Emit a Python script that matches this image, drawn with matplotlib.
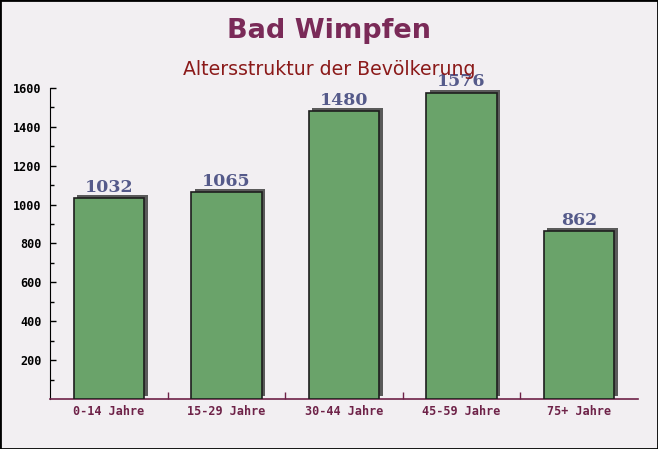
import numpy as np
import matplotlib.pyplot as plt
import matplotlib.transforms as mtransforms
from matplotlib.patches import Rectangle

categories = ["0-14 Jahre", "15-29 Jahre", "30-44 Jahre", "45-59 Jahre", "75+ Jahre"]
values = [1032, 1065, 1480, 1576, 862]

fig = plt.figure(figsize=(6.58, 4.49), dpi=100)
fig.patch.set_facecolor("#f2eff2")
ax = fig.add_axes([0.076, 0.1114, 0.8936, 0.6926])
ax.set_facecolor("none")

x = np.arange(len(categories))
shadow = mtransforms.offset_copy(ax.transData, fig=fig, x=3.5, y=3, units="dots")
ax.bar(x, values, width=0.6, color="#5a5a5a", transform=shadow, zorder=2)
ax.bar(x, values, width=0.6, color="#6aa36a", edgecolor="#1e1e1e", linewidth=1.2, zorder=3)

for xi, v in zip(x, values):
    ax.text(xi, v + 12, str(v), ha="center", va="bottom", fontsize=12.5,
            fontweight="bold", family="DejaVu Serif", color="#555a8a", zorder=4)

ax.set_xlim(-0.5, len(categories) - 0.5)
ax.set_ylim(0, 1600)
ax.set_yticks(np.arange(200, 1601, 200))
ax.set_yticks(np.arange(100, 1600, 200), minor=True)
ax.set_xticks(x)
ax.set_xticklabels(categories)
ax.set_xticks(np.arange(0.5, len(categories) - 1, 1), minor=True)

for lab in ax.get_yticklabels():
    lab.set_family("DejaVu Sans Mono")
    lab.set_fontweight("bold")
    lab.set_fontsize(8.5)
for lab in ax.get_xticklabels():
    lab.set_family("DejaVu Sans Mono")
    lab.set_fontweight("bold")
    lab.set_fontsize(8.5)
    lab.set_color("#6e2248")

ax.tick_params(axis="y", which="major", direction="in", length=4, width=1, pad=6, colors="black")
ax.tick_params(axis="y", which="minor", direction="in", length=3, width=1)
ax.tick_params(axis="x", which="major", length=0, pad=4)
ax.tick_params(axis="x", which="minor", direction="in", length=5, width=1, color="#6e2248")

for side in ["top", "right"]:
    ax.spines[side].set_visible(False)
ax.spines["left"].set_color("black")
ax.spines["bottom"].set_color("#6e2248")
ax.spines["bottom"].set_linewidth(1.2)

fig.text(0.5, 0.932, "Bad Wimpfen", ha="center", va="center", fontsize=19.5,
         fontweight="bold", color="#7a2a58")
fig.text(0.5, 0.845, "Altersstruktur der Bevölkerung", ha="center", va="center",
         fontsize=13.6, color="#8b1a1a")

fig.patches.append(Rectangle((0, 0), 1, 1, transform=fig.transFigure, fill=False,
                             edgecolor="black", linewidth=2))

fig.savefig("out.png", dpi=100, facecolor=fig.get_facecolor())
